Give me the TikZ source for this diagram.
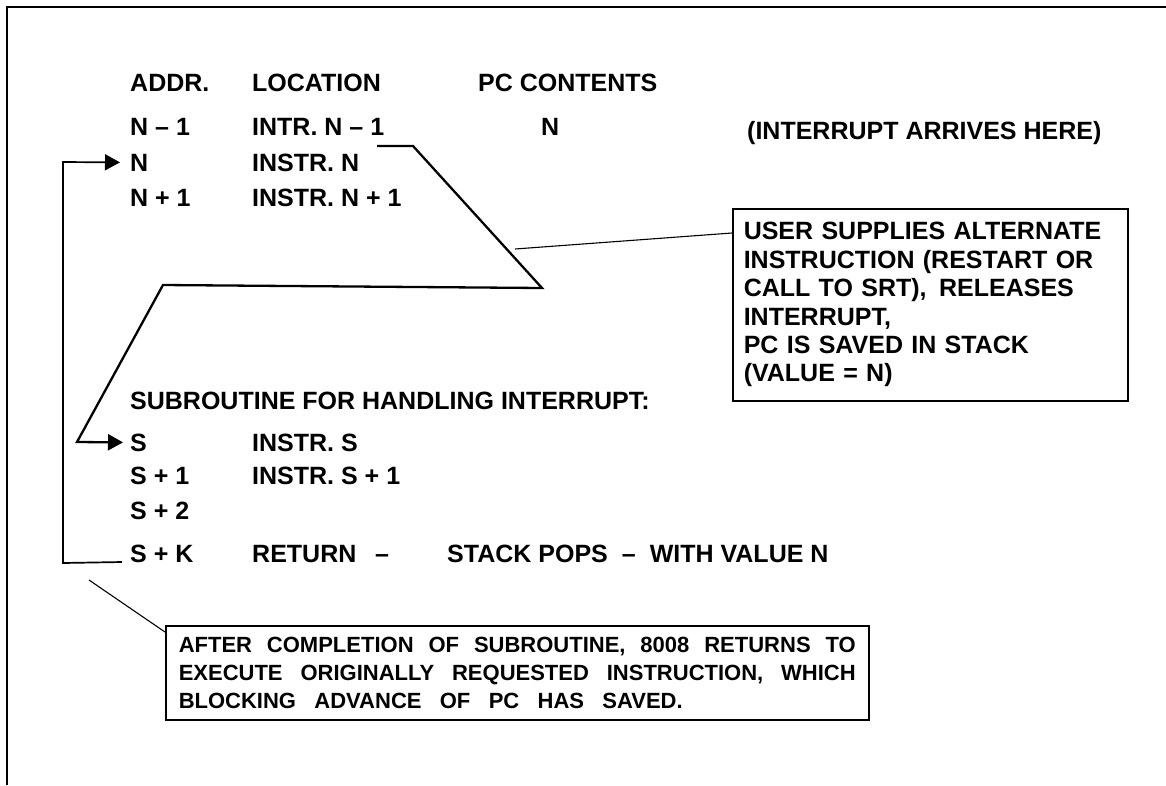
\documentclass[tikz,border=0pt]{standalone}
\usepackage{fontspec}
\setmainfont{Liberation Sans}
\usetikzlibrary{arrows.meta,calc}
\begin{document}
\begin{tikzpicture}[x=1pt,y=-1pt,
  txt/.style={anchor=base west,inner sep=0pt,font=\bfseries\fontsize{25}{28.4}\selectfont},
  flow/.style={line width=2.3pt,line join=miter},
  brk/.style={line width=1.7pt},
  lead/.style={line width=1.1pt},
  tip/.style={-{Triangle[length=15pt,width=16pt]}},
  frame/.style={line width=1.5pt},
  box/.style={draw,line width=1.5pt,anchor=north west}]
\useasboundingbox (0,0) rectangle (1166,785);
\draw[frame] (7,785) -- (7,7) -- (1166,7);

% header
\node[txt] (hAddr) at (130,91) {ADDR.};
\node[txt] (hLoc) at (252,91) {LOCATION};
\node[txt] (hPC) at (478,91) {PC CONTENTS};
% rows
\node[txt] (aNm1) at (130,135) {N – 1};
\node[txt] (lNm1) at (252,135) {INTR. N – 1};
\node[txt] (pcN) at (541,135) {N};
\node[txt] (intr) at (747,139) {(INTERRUPT ARRIVES HERE)};
\node[txt] (aN) at (130,171) {N};
\node[txt] (lN) at (252,171) {INSTR. N};
\node[txt] (aNp1) at (130,206) {N + 1};
\node[txt] (lNp1) at (252,206) {INSTR. N + 1};
\node[txt] (sub) at (130,409) {SUBROUTINE FOR HANDLING INTERRUPT:};
\node[txt] (aS) at (130,451) {S};
\node[txt] (lS) at (252,451) {INSTR. S};
\node[txt] (aS1) at (130,484) {S + 1};
\node[txt] (lS1) at (252,484) {INSTR. S + 1};
\node[txt] (aS2) at (130,519) {S + 2};
\node[txt] (aSK) at (130,562) {S + K};
\node[txt] (lSK) at (252,562) {RETURN};
\node[txt] (dsh) at (375,562) {–};
\node[txt] (pops) at (447,562) {STACK POPS\hspace{14pt}–\hspace{14pt}WITH VALUE N};

% boxes
\node[box,minimum width=395pt,minimum height=192pt,text width=373pt,
      inner xsep=11pt,inner ysep=0pt,align=left,
      font=\bfseries\fontsize{25}{28.4}\selectfont] (userbox) at (732,208)
  {USER SUPPLIES ALTERNATE\\INSTRUCTION (RESTART OR\\CALL TO SRT),\enspace RELEASES\\INTERRUPT,\\PC IS SAVED IN STACK\\(VALUE = N)};
\node[box,minimum width=703pt,minimum height=94pt,inner sep=0pt,align=left,
      font=\bfseries\fontsize{22}{28}\selectfont] (afterbox) at (165,625)
  {\makebox[677pt][s]{AFTER COMPLETION OF SUBROUTINE, 8008 RETURNS TO}\\
   \makebox[677pt][s]{EXECUTE ORIGINALLY REQUESTED INSTRUCTION, WHICH}\\
   \makebox[504pt][s]{BLOCKING ADVANCE OF PC HAS SAVED.}};

% interrupt flow path
\coordinate (p0) at (377,146);
\coordinate (p1) at (413,146);
\coordinate (p2) at (542,288);
\coordinate (p3) at (163,285);
\coordinate (p4) at (77,442);
\draw[flow,tip] (p0) -- (p1) -- (p2) -- (p3) -- (p4) -- ([xshift=-7pt]aS.west);

% return bracket
\coordinate (b1) at (63,563);
\coordinate (b2) at (63,162);
\draw[brk,tip] ([xshift=-8pt]aSK.base west) -- (b1) -- (b2) -- ([xshift=-10pt]aN.west);

% leaders
\coordinate (l1) at (515,249);
\draw[lead] (l1) -- ($(userbox.north west)+(0,25)$);
\coordinate (l2) at (89,580);
\draw[lead] (l2) -- ($(afterbox.north west)+(0,7)$);
\end{tikzpicture}
\end{document}
